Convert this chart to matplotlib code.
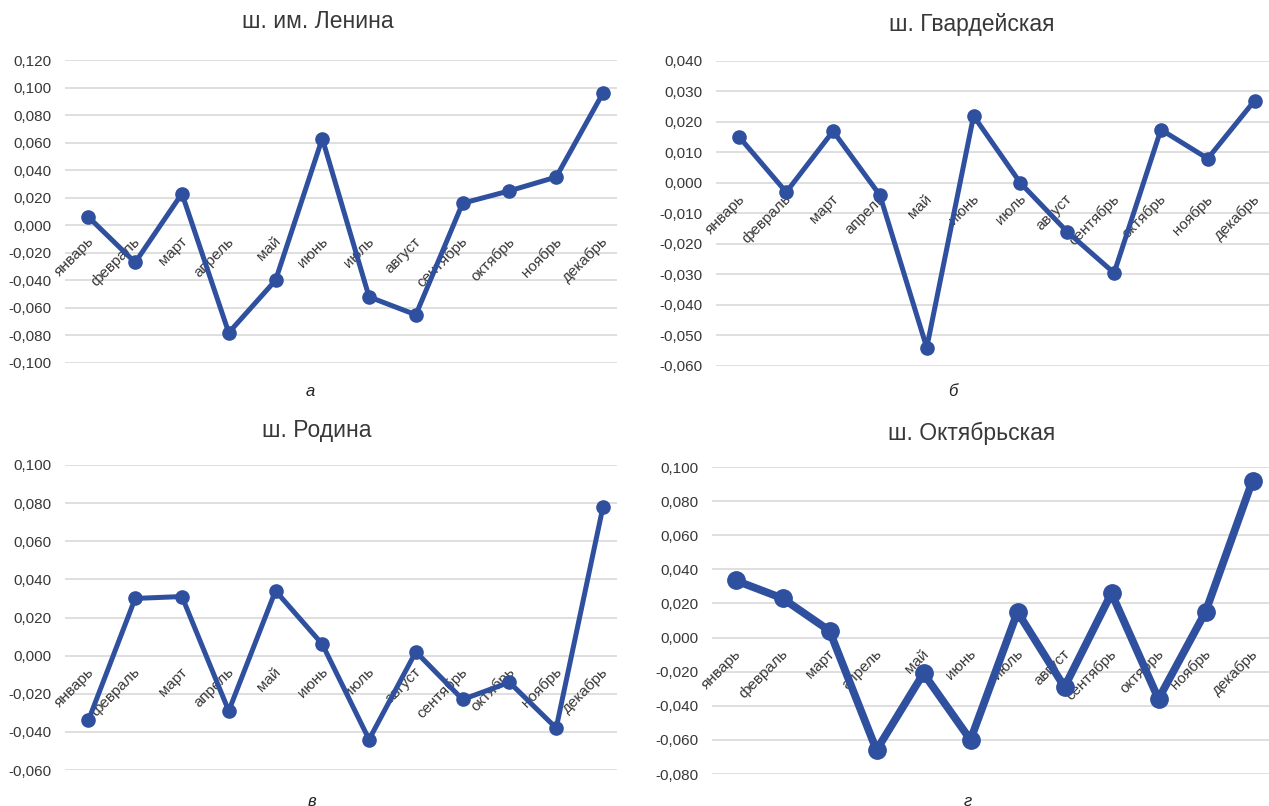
import matplotlib.pyplot as plt
from matplotlib.ticker import FuncFormatter

# месяцы и значения по шахтам
meses = ['январь', 'февраль', 'март', 'апрель', 'май', 'июнь',
         'июль', 'август', 'сентябрь', 'октябрь', 'ноябрь', 'декабрь']

lenina = [0.006, -0.027, 0.023, -0.078, -0.040, 0.063,
          -0.052, -0.065, 0.016, 0.025, 0.035, 0.096]
gvardeiskaya = [0.015, -0.003, 0.017, -0.004, -0.054, 0.022,
                0.000, -0.016, -0.0295, 0.0175, 0.008, 0.027]
rodina = [-0.034, 0.030, 0.031, -0.029, 0.034, 0.006,
          -0.044, 0.002, -0.023, -0.014, -0.038, 0.078]
oktyabrskaya = [0.0335, 0.023, 0.004, -0.066, -0.021, -0.060,
                0.015, -0.029, 0.026, -0.036, 0.015, 0.092]

titulos = ['ш. им. Ленина', 'ш. Гвардейская', 'ш. Родина', 'ш. Октябрьская']
letras = ['а', 'б', 'в', 'г']

W, H = 1269, 806
cor = '#2f4f9f'
plt.rcParams['font.family'] = ['Liberation Sans', 'DejaVu Sans']

fig = plt.figure(figsize=(W / 100, H / 100), dpi=100)


def eixo(left, top, right, bottom):
    return fig.add_axes([left / W, 1 - bottom / H, (right - left) / W, (bottom - top) / H])


def virgula(v, pos):
    s = '%.3f' % v
    if s == '-0.000':
        s = '0.000'
    return s.replace('.', ',')


def grafico(ax, valores, ymin, ymax, passo, lw, ms, xmax):
    x = list(range(len(meses)))
    ax.plot(x, valores, color=cor, linewidth=lw, marker='o', markersize=ms,
            solid_joinstyle='round', zorder=3)
    ax.set_xlim(-0.5, xmax)
    ax.set_ylim(ymin, ymax)
    n = int(round((ymax - ymin) / passo))
    ax.set_yticks([ymin + i * passo for i in range(n + 1)])
    ax.yaxis.set_major_formatter(FuncFormatter(virgula))
    ax.set_xticks([])
    ax.grid(axis='y', color='#d9d9d9', linewidth=1.2, zorder=0)
    ax.tick_params(axis='y', length=0, pad=10, labelsize=11, labelcolor='#383838')
    for s in ax.spines.values():
        s.set_visible(False)
    # rótulos dos meses junto da linha do zero
    for i, m in enumerate(meses):
        ax.annotate(m, (i, 0), xytext=(3, -14), textcoords='offset pixels',
                    rotation=45, rotation_mode='anchor', ha='right', va='center',
                    fontsize=11, color='#383838', zorder=2)


ax1 = eixo(65, 60, 617, 363)
grafico(ax1, lenina, -0.1, 0.12, 0.02, 3.6, 9.5, 11.3)
ax2 = eixo(716, 61, 1278, 366)
grafico(ax2, gvardeiskaya, -0.06, 0.04, 0.01, 3.6, 9.5, 11.5)
ax3 = eixo(65, 465, 617, 770)
grafico(ax3, rodina, -0.06, 0.1, 0.02, 3.6, 9.5, 11.3)
ax4 = eixo(712, 467, 1276, 774)
grafico(ax4, oktyabrskaya, -0.08, 0.1, 0.02, 5.6, 12.5, 11.5)

# títulos e letras dos painéis
pos_tit = [(318, 22), (972, 25), (317, 430), (972, 433)]
pos_let = [(310, 392), (953, 392), (312, 801), (968, 801)]
for t, (x, y) in zip(titulos, pos_tit):
    fig.text(x / W, 1 - y / H, t, ha='center', va='center', fontsize=16.5, color='#383838')
for t, (x, y) in zip(letras, pos_let):
    fig.text(x / W, 1 - y / H, t, ha='center', va='center', fontsize=12,
             style='italic', color='#222222')

fig.savefig('out.png', dpi=100)
